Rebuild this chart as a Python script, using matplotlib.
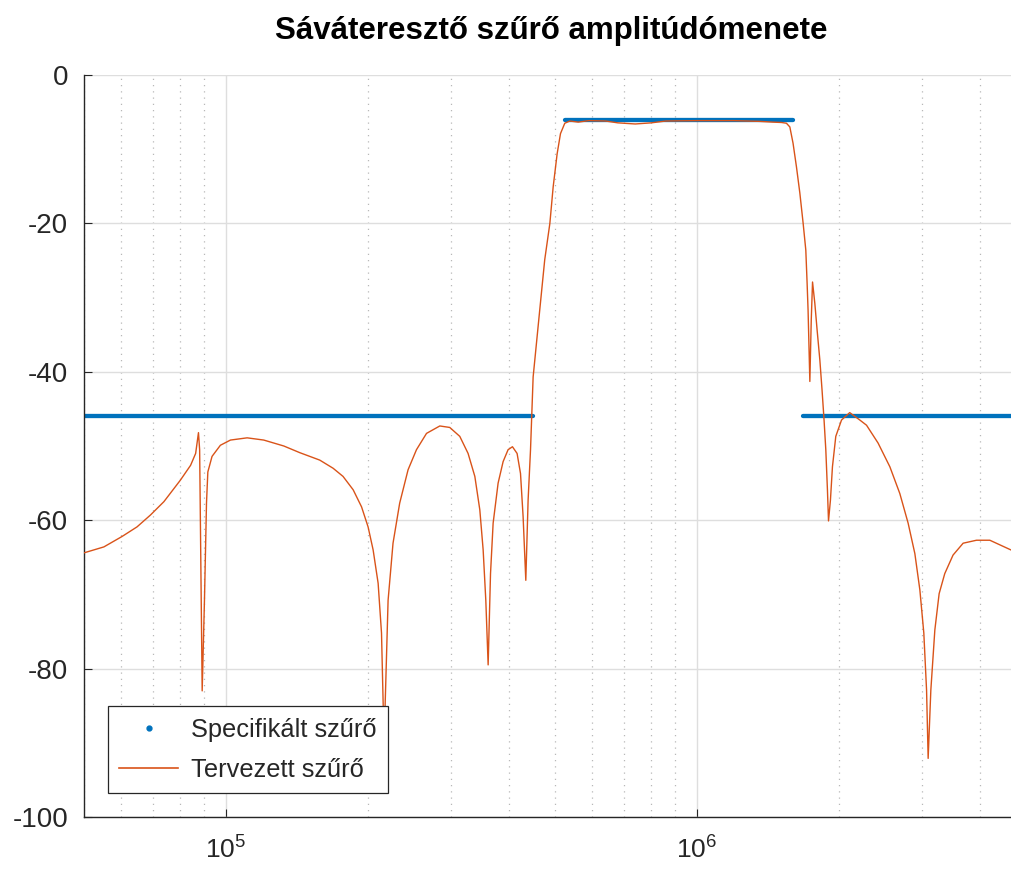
import matplotlib
matplotlib.use("Agg")
import matplotlib.pyplot as plt
import numpy as np
from matplotlib.lines import Line2D
from matplotlib.ticker import LogLocator, NullFormatter

# Designed filter response (kHz, dB)
freq_khz = [50.0, 55.1, 60.2, 64.8, 69.2, 73.9, 80.1, 84.2, 86.3, 87.5, 88.0,
            89.1, 90.1, 91.0, 91.6, 93.5, 97.4, 102.3, 111.0, 120.4, 132.8,
            143.6, 158.3, 169.0, 177.4, 186.4, 194.2, 200.5, 205.5, 210.6,
            214.1, 216.8, 221.1, 226.5, 234.0, 243.8, 254.0, 266.8, 284.7,
            298.9, 313.9, 326.9, 337.9, 346.2, 351.9, 356.5, 360.6, 364.8,
            369.5, 378.6, 388.0, 397.5, 406.1, 415.4, 422.4, 427.8, 433.5,
            438.4, 443.6, 449.3, 464.0, 475.5, 487.6, 495.5, 505.3, 513.6,
            524.5, 537.6, 560, 590, 640, 680, 740, 800, 860, 1000, 1200, 1360,
            1450, 1513, 1550, 1576, 1601, 1628, 1655, 1682, 1704, 1715, 1723,
            1738, 1750, 1761, 1781, 1801, 1825, 1845, 1863, 1879, 1894, 1904,
            1922, 1941, 1973, 2029, 2112, 2219, 2293, 2426, 2570, 2698, 2810,
            2904, 2976, 3034, 3075, 3099, 3140, 3202, 3270, 3361, 3500, 3677,
            3925, 4190, 4642, 5000]
gain_db = [-64.4, -63.6, -62.2, -60.9, -59.3, -57.5, -54.6, -52.6, -51.0, -48.2, -50.5,
           -83.0, -70.8, -57.7, -53.5, -51.4, -49.9, -49.2, -48.9, -49.2, -50.0,
           -50.9, -51.9, -53.0, -54.1, -55.9, -58.2, -60.9, -64.0, -68.5,
           -75.2, -90.0, -70.8, -63.1, -57.7, -53.2, -50.5, -48.3, -47.3,
           -47.5, -48.7, -51.0, -54.1, -58.6, -64.0, -70.8, -79.5, -67.2,
           -60.4, -55.0, -52.1, -50.5, -50.1, -51.0, -53.7, -59.5, -68.1,
           -57.3, -50.5, -40.7, -31.7, -24.9, -20.0, -15.1, -10.6, -7.9,
           -6.5, -6.2, -6.35, -6.15, -6.2, -6.45, -6.6, -6.45, -6.2, -6.15, -6.15, -6.25,
           -6.35, -6.4, -6.5, -7.0, -9.2, -12.4, -15.9, -20.0, -23.6, -28.1, -31.7,
           -41.3, -33.0, -27.9, -30.8, -34.4, -38.4, -42.5, -46.5, -50.5, -55.9, -60.1,
           -57.3, -52.8, -48.7, -46.5, -45.5, -46.5, -47.2, -49.6, -52.8, -56.4, -60.4,
           -64.5, -69.4, -75.2, -82.9, -92.1, -82.9, -74.8, -69.9, -67.2, -64.7, -63.1,
           -62.7, -62.7, -64.0, -64.8]

# Specification: band edges (Hz) and levels (dB)
stop_low_f = [50e3, 450e3]
pass_f = [525e3, 1.6e6]
stop_high_f = [1.68e6, 5e6]
stop_level = -46
pass_level = -6

blue = "#0072BD"
orange = "#D95319"
dark = "#262626"

plt.rcParams["font.family"] = ["Liberation Sans", "DejaVu Sans"]
plt.rcParams["mathtext.fontset"] = "custom"
plt.rcParams["mathtext.rm"] = "Liberation Sans"
plt.rcParams["axes.unicode_minus"] = False

fig = plt.figure(figsize=(10.11, 8.69), dpi=100)
ax = fig.add_axes([84 / 1011, 52 / 869, 942 / 1011, 742 / 869])

for band, level in [(stop_low_f, stop_level), (pass_f, pass_level), (stop_high_f, stop_level)]:
    ax.plot(band, [level, level], color=blue, lw=3.1, solid_capstyle="round", zorder=2)

ax.plot(np.array(freq_khz) * 1e3, gain_db, color=orange, lw=1.0, zorder=3)

ax.set_xscale("log")
ax.set_xlim(5e4, 5e6)
ax.set_ylim(-100, 0)
ax.set_yticks([-100, -80, -60, -40, -20, 0])
ax.xaxis.set_major_locator(LogLocator(base=10))
ax.xaxis.set_minor_locator(LogLocator(base=10, subs=np.arange(2, 10)))
ax.xaxis.set_minor_formatter(NullFormatter())

ax.grid(True, which="major", color="#dedede", lw=1.0, zorder=0)
ax.grid(True, which="minor", axis="x", color="#b8b8b8", lw=0.9, ls=(0, (1, 4)), zorder=0)
ax.set_axisbelow(True)

for s in ["top", "right"]:
    ax.spines[s].set_visible(False)
for s in ["left", "bottom"]:
    ax.spines[s].set_color(dark)
    ax.spines[s].set_linewidth(1.0)

ax.tick_params(axis="both", which="major", direction="in", length=6, width=0.8,
               colors=dark)
ax.tick_params(axis="y", pad=11.5, labelsize=20)
ax.tick_params(axis="x", pad=14, labelsize=19)
ax.tick_params(axis="x", which="minor", length=0)

ax.set_title("Sáváteresztő szűrő amplitúdómenete",
             fontsize=22.5, fontweight="bold", pad=26, x=0.496)

handles = [
    Line2D([], [], color=blue, marker="o", markersize=3.5, ls="none"),
    Line2D([], [], color=orange, lw=1.2),
]
leg = ax.legend(handles, ["Specifikált szűrő", "Tervezett szűrő"],
                loc="lower left", bbox_to_anchor=(24 / 942, 24 / 742),
                borderaxespad=0, fontsize=18.3, fancybox=False, framealpha=1,
                edgecolor=dark, handlelength=2.3, handletextpad=0.5,
                borderpad=0.45, labelspacing=0.62)
leg.get_frame().set_linewidth(0.9)
for t in leg.get_texts():
    t.set_color(dark)

fig.savefig("out.png", dpi=100)
